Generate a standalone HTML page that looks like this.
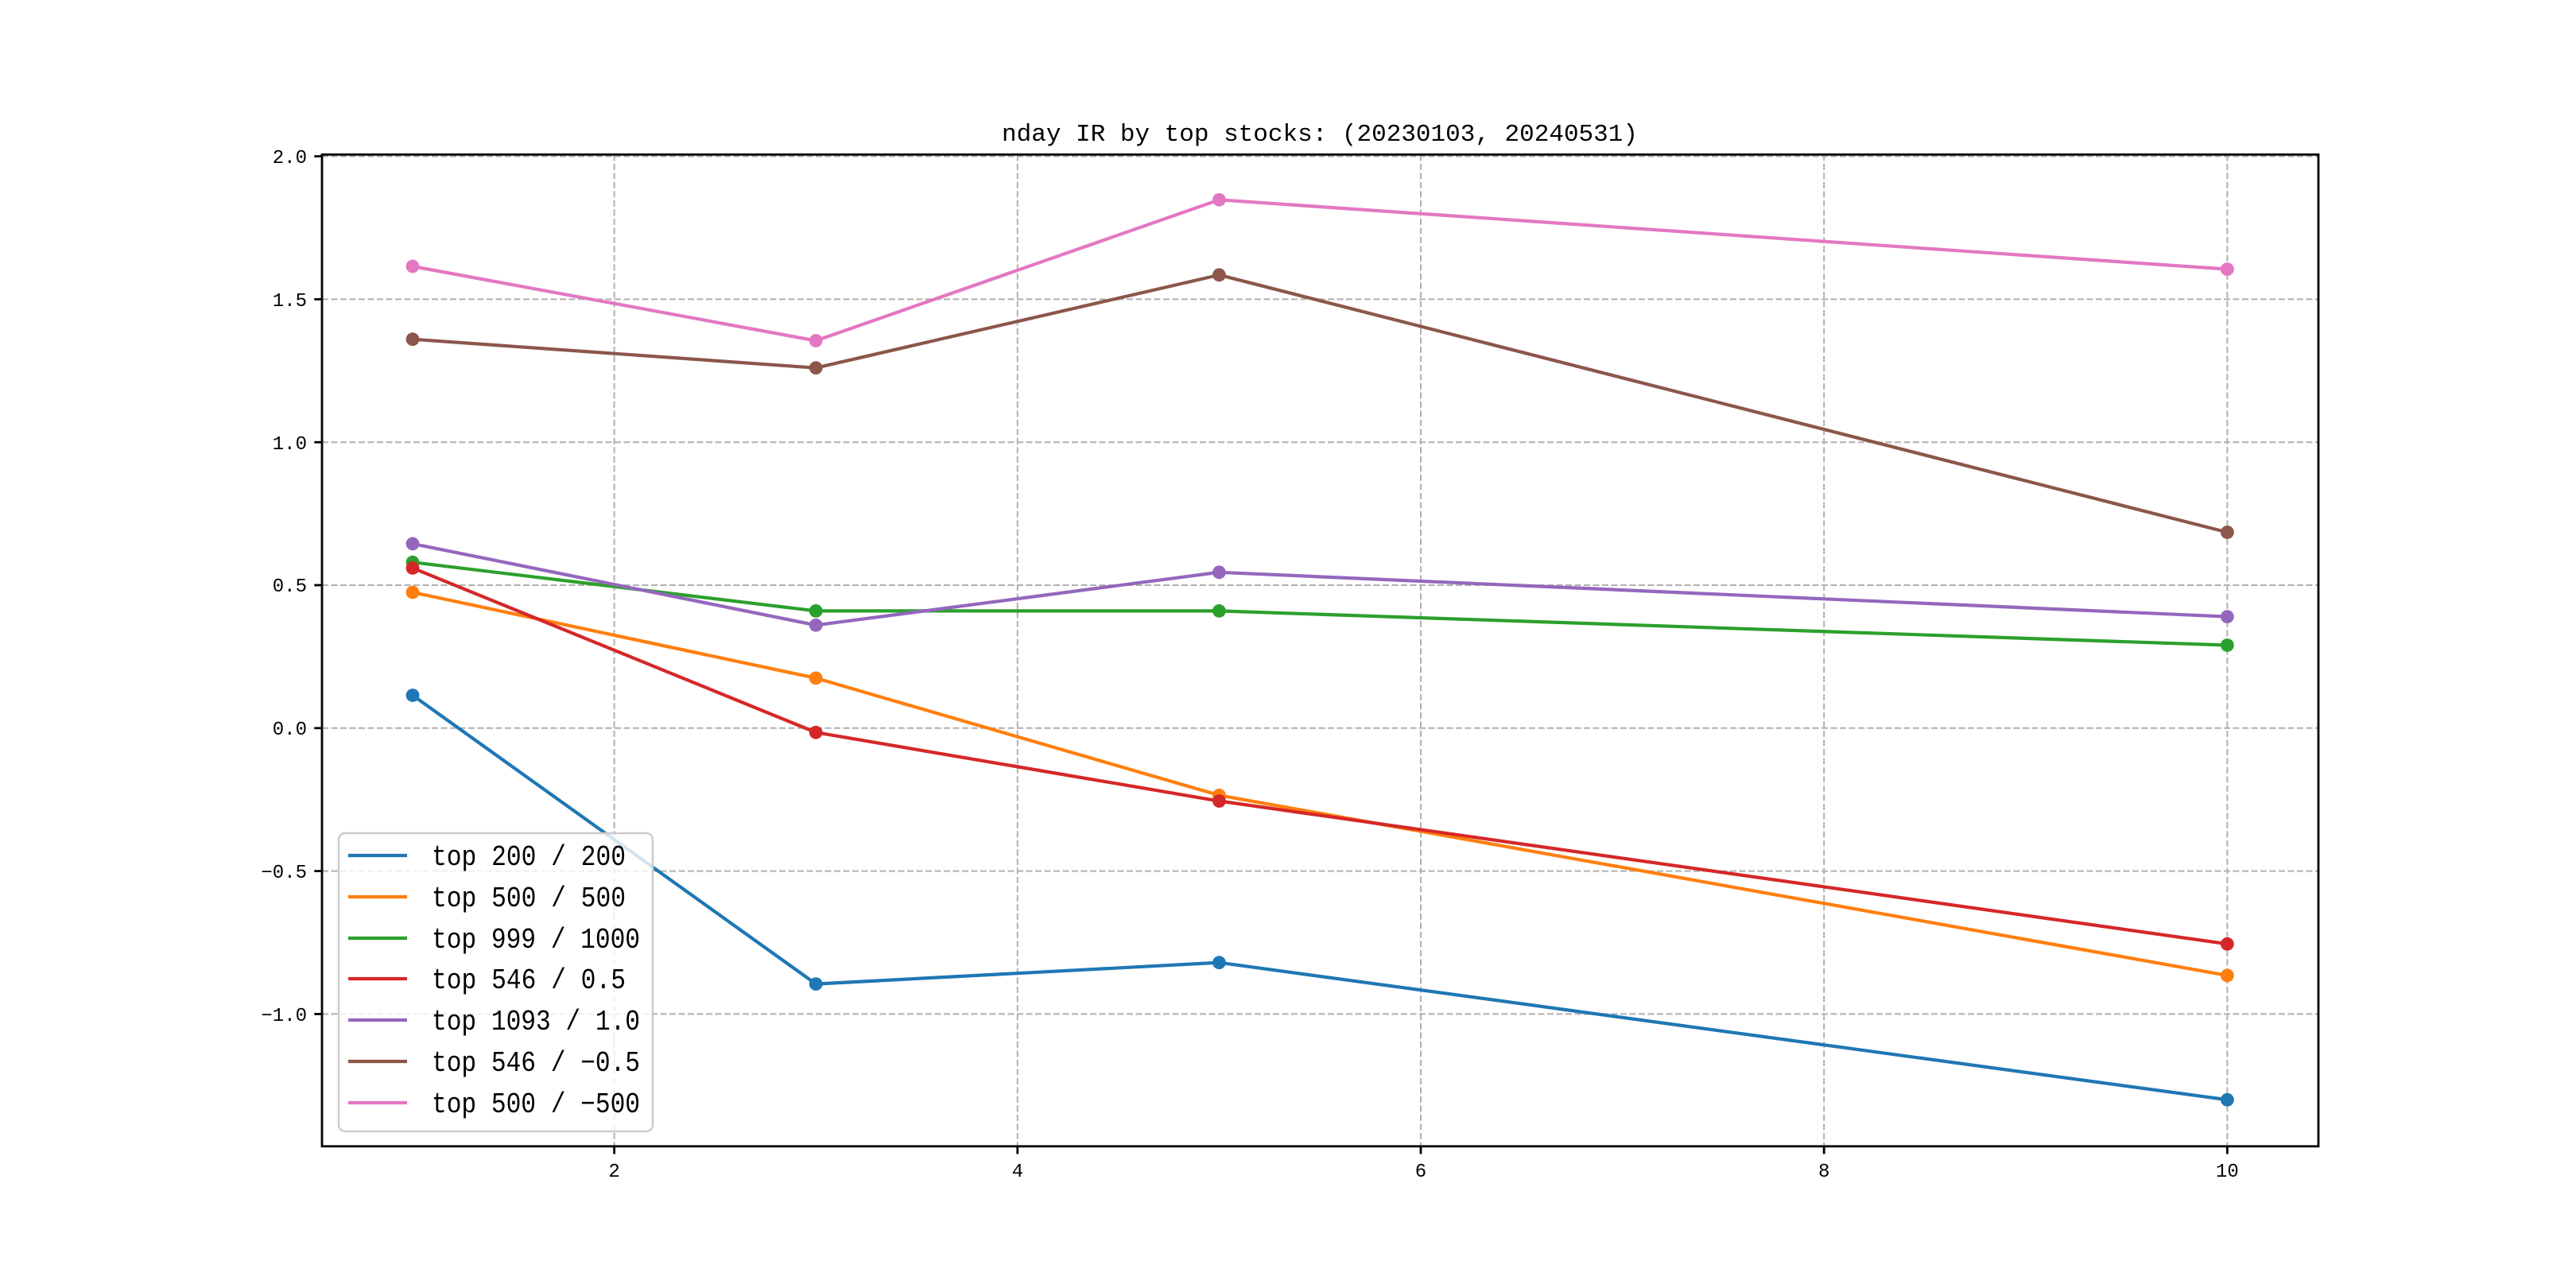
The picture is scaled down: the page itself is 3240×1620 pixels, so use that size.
<!DOCTYPE html>
<html><head><meta charset="utf-8"><style>
html,body{margin:0;padding:0;background:#fff;}
svg{display:block;}
text{font-family:"Liberation Mono","Noto Sans CJK SC",monospace;fill:#000;}
</style></head><body>
<svg width="3240" height="1620" viewBox="0 0 3240 1620" xmlns="http://www.w3.org/2000/svg">
<rect width="3240" height="1620" fill="#fff"/>
<g stroke="#b0b0b0" stroke-width="2" stroke-dasharray="8,3.5" fill="none">
<line x1="772.6" y1="194.4" x2="772.6" y2="1441.8"/>
<line x1="1279.8" y1="194.4" x2="1279.8" y2="1441.8"/>
<line x1="1787" y1="194.4" x2="1787" y2="1441.8"/>
<line x1="2294.2" y1="194.4" x2="2294.2" y2="1441.8"/>
<line x1="2801.4" y1="194.4" x2="2801.4" y2="1441.8"/>
<line x1="405" y1="196.6" x2="2916" y2="196.6"/>
<line x1="405" y1="376.4" x2="2916" y2="376.4"/>
<line x1="405" y1="556.2" x2="2916" y2="556.2"/>
<line x1="405" y1="736" x2="2916" y2="736"/>
<line x1="405" y1="915.8" x2="2916" y2="915.8"/>
<line x1="405" y1="1095.6" x2="2916" y2="1095.6"/>
<line x1="405" y1="1275.4" x2="2916" y2="1275.4"/>
</g>
<g fill="none" stroke-width="4.2" stroke-linejoin="round">
<polyline stroke="#1f77b4" points="519,874.5 1026.2,1237.6 1533.4,1210.7 2801.4,1383.3"/>
<polyline stroke="#ff7f0e" points="519,745 1026.2,852.9 1533.4,1000.3 2801.4,1226.9"/>
<polyline stroke="#2ca02c" points="519,707.2 1026.2,768.4 1533.4,768.4 2801.4,811.5"/>
<polyline stroke="#d62728" points="519,714.4 1026.2,921.2 1533.4,1007.5 2801.4,1187.3"/>
<polyline stroke="#9467bd" points="519,683.9 1026.2,786.3 1533.4,719.8 2801.4,775.6"/>
<polyline stroke="#8c564b" points="519,426.7 1026.2,462.7 1533.4,345.8 2801.4,669.5"/>
<polyline stroke="#e377c2" points="519,335 1026.2,428.5 1533.4,251.3 2801.4,338.6"/>
</g>
<g>
<g fill="#1f77b4"><circle cx="519" cy="874.5" r="8.4"/><circle cx="1026.2" cy="1237.6" r="8.4"/><circle cx="1533.4" cy="1210.7" r="8.4"/><circle cx="2801.4" cy="1383.3" r="8.4"/></g>
<g fill="#ff7f0e"><circle cx="519" cy="745" r="8.4"/><circle cx="1026.2" cy="852.9" r="8.4"/><circle cx="1533.4" cy="1000.3" r="8.4"/><circle cx="2801.4" cy="1226.9" r="8.4"/></g>
<g fill="#2ca02c"><circle cx="519" cy="707.2" r="8.4"/><circle cx="1026.2" cy="768.4" r="8.4"/><circle cx="1533.4" cy="768.4" r="8.4"/><circle cx="2801.4" cy="811.5" r="8.4"/></g>
<g fill="#d62728"><circle cx="519" cy="714.4" r="8.4"/><circle cx="1026.2" cy="921.2" r="8.4"/><circle cx="1533.4" cy="1007.5" r="8.4"/><circle cx="2801.4" cy="1187.3" r="8.4"/></g>
<g fill="#9467bd"><circle cx="519" cy="683.9" r="8.4"/><circle cx="1026.2" cy="786.3" r="8.4"/><circle cx="1533.4" cy="719.8" r="8.4"/><circle cx="2801.4" cy="775.6" r="8.4"/></g>
<g fill="#8c564b"><circle cx="519" cy="426.7" r="8.4"/><circle cx="1026.2" cy="462.7" r="8.4"/><circle cx="1533.4" cy="345.8" r="8.4"/><circle cx="2801.4" cy="669.5" r="8.4"/></g>
<g fill="#e377c2"><circle cx="519" cy="335" r="8.4"/><circle cx="1026.2" cy="428.5" r="8.4"/><circle cx="1533.4" cy="251.3" r="8.4"/><circle cx="2801.4" cy="338.6" r="8.4"/></g>
</g>
<rect x="405" y="194.4" width="2511" height="1247.4" fill="none" stroke="#000" stroke-width="2.8"/>
<g stroke="#000" stroke-width="2.8">
<line x1="772.6" y1="1441.8" x2="772.6" y2="1451.5"/>
<line x1="1279.8" y1="1441.8" x2="1279.8" y2="1451.5"/>
<line x1="1787" y1="1441.8" x2="1787" y2="1451.5"/>
<line x1="2294.2" y1="1441.8" x2="2294.2" y2="1451.5"/>
<line x1="2801.4" y1="1441.8" x2="2801.4" y2="1451.5"/>
<line x1="395.3" y1="196.6" x2="405" y2="196.6"/>
<line x1="395.3" y1="376.4" x2="405" y2="376.4"/>
<line x1="395.3" y1="556.2" x2="405" y2="556.2"/>
<line x1="395.3" y1="736" x2="405" y2="736"/>
<line x1="395.3" y1="915.8" x2="405" y2="915.8"/>
<line x1="395.3" y1="1095.6" x2="405" y2="1095.6"/>
<line x1="395.3" y1="1275.4" x2="405" y2="1275.4"/>
</g>
<g font-size="24" text-anchor="middle">
<text x="772.6" y="1480">2</text>
<text x="1279.8" y="1480">4</text>
<text x="1787" y="1480">6</text>
<text x="2294.2" y="1480">8</text>
<text x="2801.4" y="1480">10</text>
</g>
<g font-size="24" text-anchor="end">
<text x="386" y="205">2.0</text>
<text x="386" y="385">1.5</text>
<text x="386" y="565">1.0</text>
<text x="386" y="744">0.5</text>
<text x="386" y="924">0.0</text>
<text x="386" y="1104">−0.5</text>
<text x="386" y="1284">−1.0</text>
</g>
<text x="1660" y="177" font-size="31" text-anchor="middle">nday IR by top stocks: (20230103, 20240531)</text>
<rect x="426" y="1048" width="395" height="375" rx="8" fill="#fff" fill-opacity="0.8" stroke="#cccccc" stroke-width="2.5"/>
<g stroke-width="4.2">
<line x1="438" y1="1076" x2="512" y2="1076" stroke="#1f77b4"/>
<line x1="438" y1="1128" x2="512" y2="1128" stroke="#ff7f0e"/>
<line x1="438" y1="1180" x2="512" y2="1180" stroke="#2ca02c"/>
<line x1="438" y1="1231" x2="512" y2="1231" stroke="#d62728"/>
<line x1="438" y1="1283" x2="512" y2="1283" stroke="#9467bd"/>
<line x1="438" y1="1335" x2="512" y2="1335" stroke="#8c564b"/>
<line x1="438" y1="1387" x2="512" y2="1387" stroke="#e377c2"/>
</g>
<g font-size="36">
<text x="543" y="1088" textLength="244" lengthAdjust="spacingAndGlyphs">top 200 / 200</text>
<text x="543" y="1140" textLength="244" lengthAdjust="spacingAndGlyphs">top 500 / 500</text>
<text x="543" y="1192" textLength="262" lengthAdjust="spacingAndGlyphs">top 999 / 1000</text>
<text x="543" y="1243" textLength="244" lengthAdjust="spacingAndGlyphs">top 546 / 0.5</text>
<text x="543" y="1295" textLength="262" lengthAdjust="spacingAndGlyphs">top 1093 / 1.0</text>
<text x="543" y="1347" textLength="262" lengthAdjust="spacingAndGlyphs">top 546 / −0.5</text>
<text x="543" y="1399" textLength="262" lengthAdjust="spacingAndGlyphs">top 500 / −500</text>
</g>
</svg>
</body></html>
